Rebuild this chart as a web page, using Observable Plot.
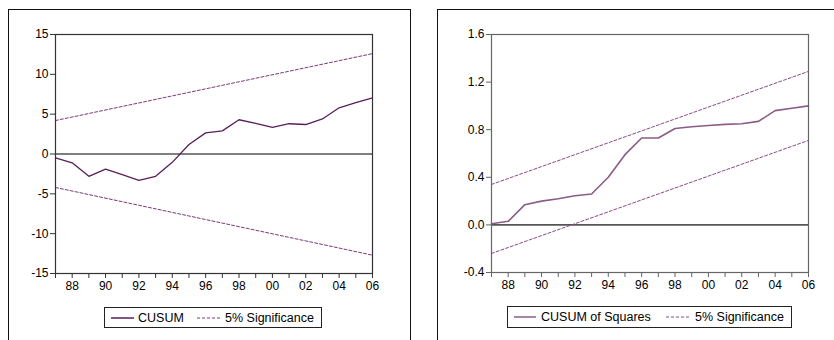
<!DOCTYPE html>
<html><head><meta charset="utf-8">
<script src="https://cdn.jsdelivr.net/npm/d3@7"></script>
<script src="https://cdn.jsdelivr.net/npm/@observablehq/plot@0.6"></script>
<style>
html,body{margin:0;padding:0}
body{width:834px;height:340px;overflow:hidden;background:#fff;position:relative;font-family:"Liberation Sans",Arial,sans-serif}
.panel{position:absolute;border:1.5px solid #111;box-sizing:border-box}
.chart{position:absolute;top:0}
.legend{position:absolute;border:1px solid #222;box-sizing:border-box;background:#fff}
.item{position:absolute;top:0;height:100%;display:flex;align-items:center;font-size:12.5px;color:#000;white-space:nowrap}
.item svg{display:block}
</style>
</head><body>
<div class="panel" style="left:8px;top:9px;width:403px;height:340px"></div>
<div class="panel" style="left:437px;top:9px;width:420px;height:340px"></div>
<div id="c1" class="chart" style="left:0px"></div>
<div id="c2" class="chart" style="left:420px"></div>
<div id="leg1" class="legend" style="left:104px;top:307px;width:218px;height:21px"></div>
<div id="leg2" class="legend" style="left:507px;top:306px;width:285px;height:22px"></div>
<script>
const years = [1987,1988,1989,1990,1991,1992,1993,1994,1995,1996,1997,1998,1999,2000,2001,2002,2003,2004,2005,2006];
const cusum = [-0.5,-1.1,-2.8,-1.9,-2.6,-3.3,-2.8,-1.05,1.2,2.65,2.9,4.3,3.85,3.35,3.8,3.7,4.4,5.8,6.45,7.05];
const cusumSq = [0.01,0.03,0.17,0.20,0.22,0.245,0.26,0.40,0.59,0.73,0.73,0.81,0.825,0.835,0.845,0.85,0.87,0.96,0.98,1.0];
const bandYears = [1987,2006];
const cusumUpper = [4.2,12.6];
const cusumLower = [-4.2,-12.7];
const sqUpper = [0.34,1.29];
const sqLower = [-0.24,0.71];
const cusumTicks = [-15,-10,-5,0,5,10,15];
const sqTicks = [-0.4,0,0.4,0.8,1.2,1.6];

const hy = s => s.replace("\u2212","-");
const yearFmt = d => d % 2 === 0 ? String(d % 100).padStart(2,"0") : "";

function makePanel(o){
  const series = years.map((y,i)=>({year:y, v:o.values[i]}));
  const up = bandYears.map((y,i)=>({year:y, v:o.upper[i]}));
  const lo = bandYears.map((y,i)=>({year:y, v:o.lower[i]}));
  return Plot.plot({
    width:o.width, height:300,
    marginLeft:o.ml, marginRight:o.mr, marginTop:34, marginBottom:o.mb,
    x:{domain:[1987,2006], label:null},
    y:{domain:o.yDomain, label:null},
    style:{fontFamily:"Liberation Sans, Arial, sans-serif", fontSize:"12px", color:"#000", background:"transparent", overflow:"visible"},
    marks:[
      Plot.ruleY([0],{stroke:o.zeroColor, strokeWidth:o.zeroWidth}),
      Plot.line(up,{x:"year", y:"v", stroke:o.bandColor, strokeWidth:1, strokeDasharray:"3,2"}),
      Plot.line(lo,{x:"year", y:"v", stroke:o.bandColor, strokeWidth:1, strokeDasharray:"3,2"}),
      Plot.line(series,{x:"year", y:"v", stroke:o.lineColor, strokeWidth:o.lineWidth}),
      Plot.frame({stroke:o.frameColor, strokeWidth:1.2}),
      Plot.axisX({ticks:years, tickFormat:yearFmt, tickSize:5, tickPadding:3, stroke:o.frameColor}),
      Plot.axisY({ticks:o.yTicks, tickFormat:o.yFmt, tickSize:5, tickPadding:2, stroke:o.frameColor})
    ]
  });
}

document.getElementById("c1").append(makePanel({
  width:420, ml:55, mr:48, mb:27,
  values:cusum, upper:cusumUpper, lower:cusumLower,
  yDomain:[-15,15], yTicks:cusumTicks, yFmt:d=>hy(String(d)),
  lineColor:"#5a1f58", lineWidth:1.3, bandColor:"#7b3a78",
  zeroColor:"#000", zeroWidth:1.2, frameColor:"#333"
}));
document.getElementById("c2").append(makePanel({
  width:414, ml:71, mr:26, mb:28,
  values:cusumSq, upper:sqUpper, lower:sqLower,
  yDomain:[-0.4,1.6], yTicks:sqTicks, yFmt:d=>hy(d3.format(".1f")(d)),
  lineColor:"#8a5c88", lineWidth:1.6, bandColor:"#8a4a88",
  zeroColor:"#555", zeroWidth:1.6, frameColor:"#666"
}));

function sample(color, dashed, w){
  return `<svg width="${w}" height="4"><line x1="0" y1="2" x2="${w}" y2="2" stroke="${color}" stroke-width="${dashed?1:1.5}" ${dashed?'stroke-dasharray="3,2"':''}/></svg>`;
}
function legend(id, items){
  const el = document.getElementById(id);
  el.innerHTML = items.map(it=>`<div class="item" style="left:${it.x}px">${it.html}</div>`).join("");
}
legend("leg1",[
  {x:6, html:sample("#5a1f58",false,23)},
  {x:33, html:"CUSUM"},
  {x:92, html:sample("#7b3a78",true,23)},
  {x:120, html:"5% Significance"}
]);
legend("leg2",[
  {x:6, html:sample("#8a5c88",false,22)},
  {x:33, html:"CUSUM of Squares"},
  {x:158, html:sample("#8a4a88",true,23)},
  {x:187, html:"5% Significance"}
]);
</script>
</body></html>
